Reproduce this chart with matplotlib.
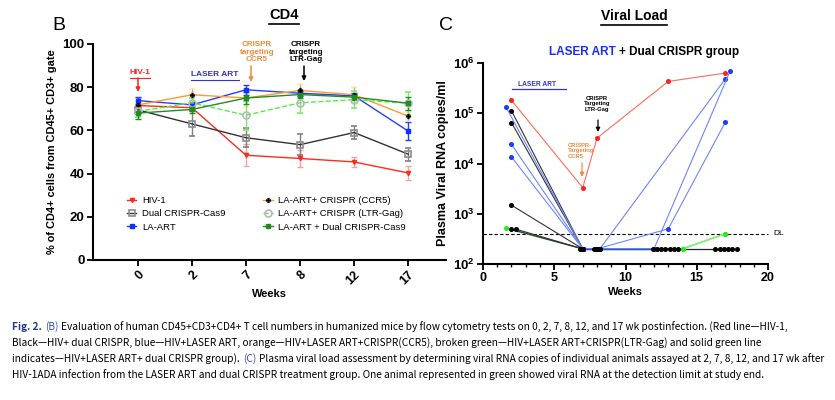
import matplotlib
matplotlib.use('Agg')
import matplotlib.pyplot as plt
from matplotlib.lines import Line2D
from matplotlib.patches import FancyArrowPatch
from matplotlib.ticker import MultipleLocator, NullLocator

plt.rcParams['font.family'] = ['Liberation Sans', 'DejaVu Sans']
plt.rcParams['mathtext.fontset'] = 'custom'
plt.rcParams['mathtext.rm'] = 'Liberation Sans'
plt.rcParams['mathtext.bf'] = 'Liberation Sans:bold'

W, H = 835, 400

# ---- panel B: % CD4+ cells (mean, error) ----
week_labels = ['0', '2', '7', '8', '12', '17']
hiv1 = [71.5, 70.5, 48.5, 47.0, 45.4, 40.3]
hiv1_err = [3.5, 1.5, 5.0, 4.0, 2.3, 3.3]
dual_crispr = [69.5, 63.0, 56.6, 53.4, 59.0, 49.0]
dual_crispr_err = [2.0, 5.8, 4.5, 5.0, 3.0, 3.0]
la_art = [73.8, 71.8, 78.8, 77.2, 76.0, 59.7]
la_art_err = [1.5, 1.5, 2.3, 1.5, 1.5, 4.2]
la_ccr5 = [71.8, 76.5, 75.0, 78.5, 76.5, 66.6]
la_ccr5_err = [2.0, 2.7, 4.0, 3.0, 3.8, 1.8]
la_ltr = [68.8, 72.8, 67.0, 72.8, 74.2, 72.6]
la_ltr_err = [2.6, 2.0, 6.7, 4.6, 4.0, 5.3]
la_dual = [68.0, 69.7, 75.0, 76.6, 75.4, 72.6]
la_dual_err = [2.6, 1.5, 3.0, 1.5, 1.5, 3.0]
b_names = ['HIV-1', 'Dual CRISPR-Cas9', 'LA-ART',
           'LA-ART+ CRISPR (CCR5)', 'LA-ART+ CRISPR (LTR-Gag)', 'LA-ART + Dual CRISPR-Cas9']

# ---- panel C: viral load of individual animals ----
red_x = [2, 7, 8, 13, 17]
red_y = [1.8e5, 3.3e3, 3.2e4, 4.3e5, 6.3e5]
blue_a_x = [1.6, 7, 8.2, 17]
blue_a_y = [1.35e5, 200, 200, 4.8e5]
blue_b_x = [2, 7, 8, 13, 17]
blue_b_y = [2.4e4, 200, 200, 500, 6.6e4]
blue_c_x = [2, 7, 12, 17.35]
blue_c_y = [1.35e4, 200, 200, 7e5]
black_start_x = [2, 2, 2, 2, 2.35]
black_start_y = [1.12e5, 6.5e4, 1480, 490, 490]
green_x = [1.6, 7, 14, 17]
green_y = [510, 200, 200, 400]
floor_x = [6.8, 6.9, 7.0, 7.8, 7.9, 8.0, 8.1, 8.2, 11.9, 12.2, 12.5, 12.8, 13.1,
           13.4, 13.7, 16.3, 16.6, 16.9, 17.2, 17.5, 17.8]
floor_value = 200
detect_limit = 400

caption = [
    [("Fig. 2.", 'bold', 'normal', '#1b3c8c'), ("(B)", 'normal', 'italic', '#3050b0'),
     ("Evaluation of human CD45+CD3+CD4+ T cell numbers in humanized mice by flow cytometry tests on 0, 2, 7, 8, 12, and 17 wk postinfection. (Red line\u2014HIV-1,", 'normal', 'normal', 'black')],
    [("Black\u2014HIV+ dual CRISPR, blue\u2014HIV+LASER ART, orange\u2014HIV+LASER ART+CRISPR(CCR5), broken green\u2014HIV+LASER ART+CRISPR(LTR-Gag) and solid green line", 'normal', 'normal', 'black')],
    [("indicates\u2014HIV+LASER ART+ dual CRISPR group).", 'normal', 'normal', 'black'), ("(C)", 'normal', 'italic', '#3050b0'),
     ("Plasma viral load assessment by determining viral RNA copies of individual animals assayed at 2, 7, 8, 12, and 17 wk after", 'normal', 'normal', 'black')],
    [("HIV-1ADA infection from the LASER ART and dual CRISPR treatment group. One animal represented in green showed viral RNA at the detection limit at study end.", 'normal', 'normal', 'black')],
]


def P(px, py):
    return px / W, 1 - py / H


fig = plt.figure(figsize=(W / 100, H / 100), dpi=100)
rend = fig.canvas.get_renderer()
inv = fig.transFigure.inverted()


def underline(t, color, pad=1.5, lw=0.9):
    bb = t.get_window_extent(renderer=rend)
    x0, y0 = inv.transform((bb.x0, bb.y0 - pad))
    x1, _ = inv.transform((bb.x1, bb.y0 - pad))
    fig.add_artist(Line2D([x0, x1], [y0, y0], color=color, lw=lw, transform=fig.transFigure))


def arrow(px, py0, py1, color, lw=1.1):
    a = FancyArrowPatch(P(px, py0), P(px, py1), transform=fig.transFigure, arrowstyle='-|>',
                        mutation_scale=6, lw=lw, color=color, shrinkA=0, shrinkB=0)
    fig.add_artist(a)


def runs(px, py, parts, size, family=None, gap=3.5):
    x, y = P(px, py)
    for s, weight, style, color in parts:
        t = fig.text(x, y, s, fontsize=size, fontweight=weight, fontstyle=style, color=color,
                     va='center', ha='left', family=family)
        bb = t.get_window_extent(renderer=rend)
        x = inv.transform((bb.x1 + gap, 0))[0]


# ================= panel B =================
axB = fig.add_axes([93 / W, 1 - 260 / H, (446 - 93) / W, (260 - 44) / H])
xs = list(range(len(week_labels)))
b_means = [hiv1, dual_crispr, la_art, la_ccr5, la_ltr, la_dual]
b_errs = [hiv1_err, dual_crispr_err, la_art_err, la_ccr5_err, la_ltr_err, la_dual_err]
b_styles = [
    dict(color='#ff2a1a', ls='-', marker='v', mfc='#ff2a1a', mec='#ff2a1a', ms=3, ecolor='#f4a3a0'),
    dict(color='#333333', ls='-', marker='s', mfc='none', mec='#8c8c8c', ms=5, mew=1.2, ecolor='#808080'),
    dict(color='#2040ff', ls='-', marker='s', mfc='#1030ff', mec='#1030ff', ms=3.5, ecolor='#2040ff'),
    dict(color='#ff9a30', ls='-', marker='P', mfc='black', mec='black', ms=3.5, mew=0.3, ecolor='#ff9a30'),
    dict(color='#55ee44', ls='--', marker='o', mfc='none', mec='#b8b8b8', ms=5, mew=1.2, ecolor='#77ee66'),
    dict(color='#228b22', ls='-', marker='s', mfc='#228b22', mec='#228b22', ms=3.5, ecolor='#228b22'),
]
handles = []
for m, e, st in zip(b_means, b_errs, b_styles):
    c = axB.errorbar(xs, m, yerr=e, capsize=2, elinewidth=1, capthick=1, lw=1, **st)
    handles.append(c[0])

axB.set_xlim(-0.83, 5.7)
axB.set_ylim(0, 100)
axB.set_xticks(xs)
axB.set_xticklabels(week_labels, rotation=45, ha='right', rotation_mode='anchor',
                    fontsize=9, fontweight='bold')
axB.set_yticks([0, 20, 40, 60, 80, 100])
axB.set_yticklabels(['0', '20', '40', '60', '80', '100'], fontsize=9.5, fontweight='bold')
for s in ['top', 'right']:
    axB.spines[s].set_visible(False)
for s in ['left', 'bottom']:
    axB.spines[s].set_linewidth(1.5)
axB.tick_params(width=1.3, length=4, pad=2)
axB.set_xlabel('Weeks', fontsize=8, fontweight='bold', labelpad=2)
axB.set_ylabel('% of CD4+ cells from CD45+ CD3+ gate', fontsize=7.9, fontweight='bold', labelpad=4)

axB.legend(handles, b_names, ncol=2, frameon=False, fontsize=6.8, loc='upper left',
           bbox_to_anchor=P(127, 196), bbox_transform=fig.transFigure, borderpad=0,
           borderaxespad=0, handlelength=1.0, handletextpad=0.6, labelspacing=0.45,
           columnspacing=4.0)

fig.text(*P(59, 25), 'B', fontsize=14, ha='center', va='center')
t = fig.text(*P(284, 15), 'CD4', fontsize=10.5, fontweight='bold', ha='center', va='center')
underline(t, 'black', lw=1.2)

t = fig.text(*P(140, 73), 'HIV-1', fontsize=6, fontweight='bold', color='#ff2020', ha='center', va='center')
underline(t, '#ff2020', lw=0.8)
arrow(138, 78, 92, '#ff2020')
t = fig.text(*P(215, 75), 'LASER ART', fontsize=6, fontweight='bold', color='#3333cc', ha='center', va='center')
underline(t, '#3333cc', lw=0.8)
fig.text(*P(257, 52), 'CRISPR\ntargeting\nCCR5', fontsize=5.8, fontweight='bold', color='#f08a3a',
         ha='center', va='center', linespacing=1.1)
arrow(251, 66, 82, '#f08a3a')
fig.text(*P(306, 52), 'CRISPR\ntargeting\nLTR-Gag', fontsize=5.8, fontweight='bold', color='black',
         ha='center', va='center', linespacing=1.1)
arrow(304, 66, 81, 'black')

# ================= panel C =================
axC = fig.add_axes([483 / W, 1 - 264 / H, (768 - 483) / W, (264 - 63) / H])
axC.set_yscale('log')
axC.set_xlim(0, 20)
axC.set_ylim(100, 1e6)

axC.axhline(detect_limit, color='black', lw=0.8, dashes=(3, 2), clip_on=False)
axC.plot(green_x, green_y, color='#44bb44', lw=0.9, marker='o', ms=2.6, mfc='#22ee22', mec='#22ee22')
axC.plot(floor_x, [floor_value] * len(floor_x), color='#222222', lw=0.9)
for bx, by in zip(black_start_x, black_start_y):
    axC.plot([bx, 7], [by, floor_value], color='#333333', lw=0.8, marker='o', ms=2.6,
             mfc='black', mec='black')
for bx, by in [(blue_a_x, blue_a_y), (blue_b_x, blue_b_y), (blue_c_x, blue_c_y)]:
    axC.plot(bx, by, color='#6d86ff', lw=0.8, marker='o', ms=2.6, mfc='#1a3cff', mec='#1a3cff')
axC.plot([7, 12], [floor_value, floor_value], color='#3050d0', lw=0.9)
axC.plot(green_x[2:], green_y[2:], color='#77ff66', lw=0.9)
axC.plot(floor_x, [floor_value] * len(floor_x), ls='none', marker='o', ms=2.6,
         mfc='black', mec='black')
axC.plot(green_x[2:], green_y[2:], ls='none', marker='o', ms=2.6, mfc='#22ee22', mec='#22ee22')
axC.plot(red_x, red_y, color='#ff6a5a', lw=0.8, marker='o', ms=2.6, mfc='#ff2020', mec='#ff2020')

axC.set_yticks([1e2, 1e3, 1e4, 1e5, 1e6])
axC.set_yticklabels([r'$\mathbf{10^{%d}}$' % k for k in range(2, 7)], fontsize=9.5)
axC.yaxis.set_minor_locator(NullLocator())
axC.set_xticks([0, 5, 10, 15, 20])
axC.set_xticklabels(['0', '5', '10', '15', '20'], fontsize=9, fontweight='bold')
axC.xaxis.set_minor_locator(MultipleLocator(1))
for s in ['top', 'right']:
    axC.spines[s].set_visible(False)
for s in ['left', 'bottom']:
    axC.spines[s].set_linewidth(1.5)
axC.tick_params(width=1.3, length=4, pad=2)
axC.tick_params(which='minor', width=1, length=2.5)
axC.set_xlabel('Weeks', fontsize=8, fontweight='bold', labelpad=2)
axC.set_ylabel('Plasma Viral RNA copies/ml', fontsize=9, fontweight='bold', labelpad=3)
axC.text(20.4, detect_limit, 'DL', fontsize=6, va='center', ha='left')

fig.text(*P(446, 25), 'C', fontsize=14, ha='center', va='center')
t = fig.text(*P(634, 16), 'Viral Load', fontsize=10, fontweight='bold', ha='center', va='center')
underline(t, 'black', lw=1.2)
runs(549, 52, [('LASER ART', 'bold', 'normal', '#1a2cff'),
               ('+ Dual CRISPR group', 'bold', 'normal', 'black')], 8.5, gap=3)

fig.text(*P(537, 85), 'LASER ART', fontsize=4.8, fontweight='bold', color='#3333cc', ha='center', va='center')
fig.add_artist(Line2D([512 / W, 566 / W], [1 - 88.5 / H] * 2, color='#3333cc', lw=0.9,
                      transform=fig.transFigure))
fig.text(*P(597, 104), 'CRISPR\nTargeting\nLTR-Gag', fontsize=4.2, fontweight='bold', color='black',
         ha='center', va='center', linespacing=1.15)
arrow(598, 120, 132, 'black', lw=0.9)
fig.text(*P(568, 151), 'CRISPR-\nTargeting\nCCR5', fontsize=4.2, fontweight='bold', color='#f08a3a',
         ha='left', va='center', linespacing=1.15)
arrow(582, 163, 177, '#f08a3a', lw=0.9)

# ================= caption =================
cap_y = [327, 343, 359, 375]
for yy, parts in zip(cap_y, caption):
    runs(12, yy, parts, 7.3, family=['Noto Sans CJK JP', 'DejaVu Sans'], gap=3)

fig.savefig('out.png', dpi=100)
